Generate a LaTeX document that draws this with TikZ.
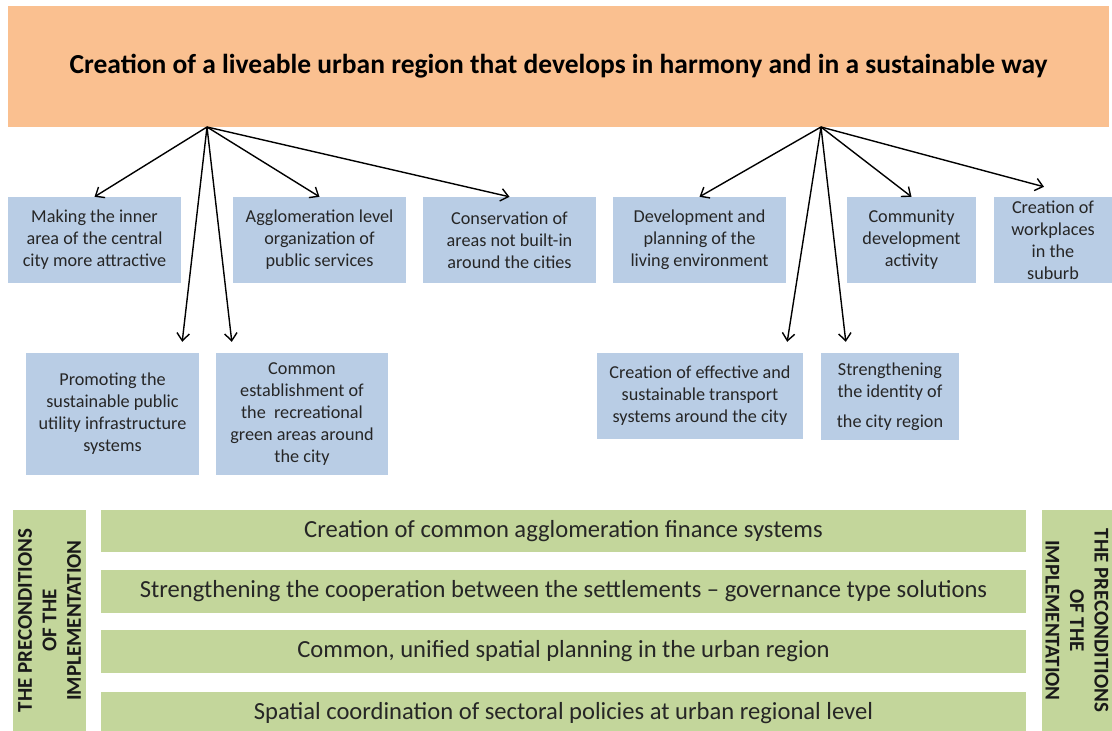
\documentclass[tikz,border=0pt]{standalone}
\usepackage{fontspec}
\setmainfont{Carlito}
\usetikzlibrary{arrows.meta}
\definecolor{orangefill}{HTML}{FAC090}
\definecolor{bluefill}{HTML}{B9CDE5}
\definecolor{greenfill}{HTML}{C3D69B}

\begin{document}
\begin{tikzpicture}[x=1pt,y=-1pt,
  goalbox/.style={fill=orangefill, minimum width=1101pt, minimum height=121pt, inner sep=0pt,
    font=\fontsize{27.5}{33}\selectfont\bfseries},
  aimbox/.style={fill=bluefill, inner sep=0pt, align=center, text=black!85,
    font=\fontsize{18.2}{22}\selectfont},
  condbar/.style={fill=greenfill, minimum width=925pt, inner sep=0pt, text=black!85,
    font=\fontsize{24.6}{29}\selectfont},
  sidebox/.style={fill=greenfill, minimum width=221pt, inner sep=0pt, align=center, text=black!90,
    font=\fontsize{21}{24.5}\selectfont\bfseries},
  arr/.style={-{Straight Barb[length=7.5pt,width=12.5pt]}, line width=1.4pt}]
  \useasboundingbox (0,0) rectangle (1112,731);

  % the main goal
  \node[goalbox] (goal) at (558.5,66.5) {Creation of a liveable urban region that develops in harmony and in a sustainable way};
  \coordinate (o1) at (207,127);
  \coordinate (o2) at (821,127);

  % upper row of aims
  \node[aimbox, minimum width=173pt, minimum height=86pt] (inner) at (94.5,240) {Making the inner\\area of the central\\city more attractive};
  \node[aimbox, minimum width=173pt, minimum height=86pt] (services) at (319.5,240) {Agglomeration level\\organization of\\public services};
  \node[aimbox, minimum width=173pt, minimum height=86pt] (conserve) at (509.5,240) {Conservation of\\areas not built-in\\around the cities};
  \node[aimbox, minimum width=173pt, minimum height=86pt] (living) at (699.5,240) {Development and\\planning of the\\living environment};
  \node[aimbox, minimum width=129pt, minimum height=86pt] (community) at (911.5,240) {Community\\development\\activity};
  \node[aimbox, minimum width=118pt, minimum height=86pt] (workplaces) at (1053,240) {Creation of\\workplaces\\in the\\suburb};

  % lower row of aims
  \node[aimbox, minimum width=173pt, minimum height=122pt] (utility) at (112.5,414) {Promoting the\\sustainable public\\utility infrastructure\\systems};
  \node[aimbox, minimum width=172pt, minimum height=122pt] (green) at (302,414) {Common\\establishment of\\the\ \ recreational\\green areas around\\the city};
  \node[aimbox, minimum width=206pt, minimum height=86pt] (transport) at (700,396) {Creation of effective and\\sustainable transport\\systems around the city};
  \node[aimbox, minimum width=138pt, minimum height=87pt] (identity) at (890,396.5) {Strengthening\\the identity of\\[8pt]the city region};

  % arrows from the goal
  \draw[arr] (o1) -- (inner.north);
  \draw[arr] (o1) -- (services.north);
  \draw[arr] (o1) -- (conserve.north);
  \draw[arr] (o1) -- ([xshift=-17pt,yshift=11pt]utility.north east);
  \draw[arr] (o1) -- ([xshift=16pt,yshift=11pt]green.north west);
  \draw[arr] (o2) -- (living.north);
  \draw[arr] (o2) -- (community.north);
  \draw[arr] (o2) -- ([xshift=-9pt,yshift=10pt]workplaces.north);
  \draw[arr] (o2) -- ([xshift=-16pt,yshift=11pt]transport.north east);
  \draw[arr] (o2) -- ([xshift=25pt,yshift=11pt]identity.north west);

  % preconditions
  \node[sidebox, minimum height=73pt, rotate=90] (precondL) at (49.5,620.5) {THE PRECONDITIONS\\OF THE\\IMPLEMENTATION};
  \node[sidebox, minimum height=70pt, rotate=-90] (precondR) at (1077,620.5) {THE PRECONDITIONS\\OF THE\\IMPLEMENTATION};
  \node[condbar, minimum height=42pt] (finance) at (563.5,531) {Creation of common agglomeration finance systems};
  \node[condbar, minimum height=43pt] (coop) at (563.5,591.5) {Strengthening the cooperation between the settlements -- governance type solutions};
  \node[condbar, minimum height=43pt] (planning) at (563.5,651.5) {Common, unified spatial planning in the urban region};
  \node[condbar, minimum height=43pt] (sectoral) at (563.5,713.5) {Spatial coordination of sectoral policies at urban regional level};
\end{tikzpicture}
\end{document}
